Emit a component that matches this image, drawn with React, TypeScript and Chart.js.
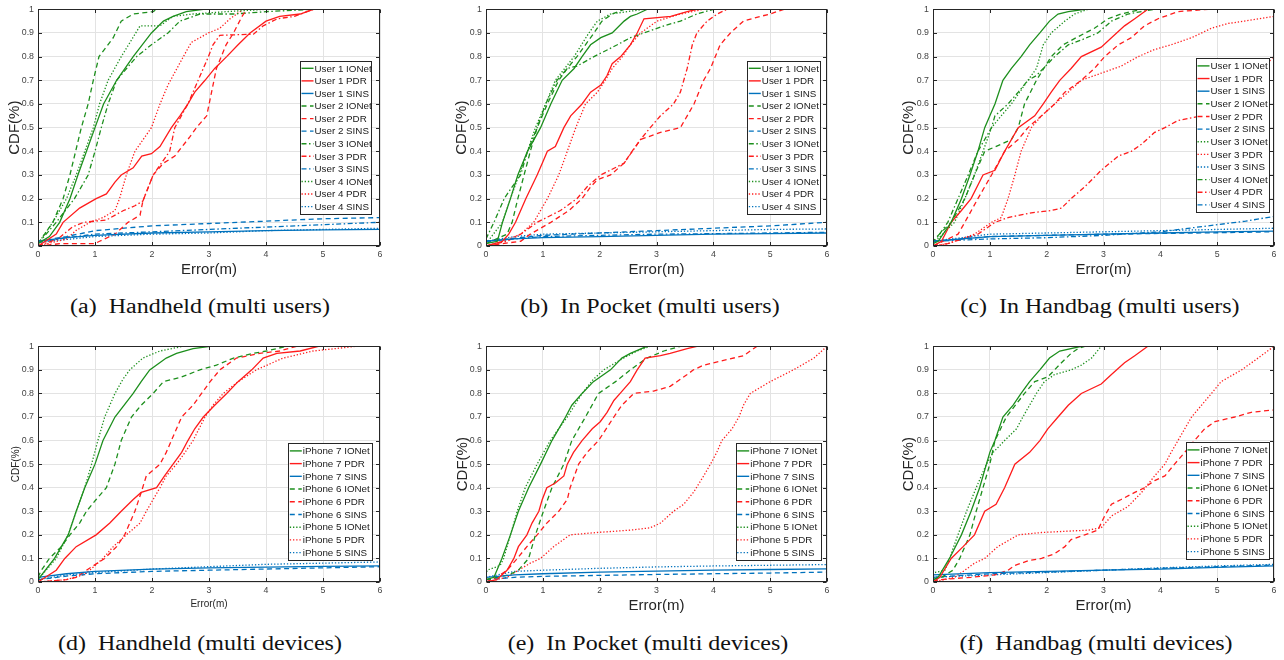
import React, { useEffect, useRef } from "react";
import { Chart, registerables } from "chart.js";

Chart.register(...registerables);

// ---------- colours & line styles ----------
const GREEN = "#1d8f1d";
const RED = "#ff1c1c";
const BLUE = "#0072bd";
const SOLID: number[] = [];
const DASHED = [5, 3.5];
const DASHDOT = [5, 2.5, 1.5, 2.5];
const DOTTED = [1.3, 1.9];

// ---------- axis ticks ----------
const X_TICKS = [0, 1, 2, 3, 4, 5, 6];
const Y_TICKS = [0, 0.1, 0.2, 0.3, 0.4, 0.5, 0.6, 0.7, 0.8, 0.9, 1];

// ---------- (a) Handheld (multi users) : [error(m), CDF] ----------
const A_U1_IONET = [[0,0.01],[0.2,0.04],[0.38,0.1],[0.56,0.2],[0.7,0.3],[0.85,0.4],[1.0,0.5],[1.15,0.6],[1.38,0.7],[1.67,0.8],[1.99,0.9],[2.2,0.95],[2.37,0.97],[2.6,0.99],[2.9,1.0]];
const A_U1_PDR = [[0,0],[0.32,0.05],[0.44,0.1],[0.73,0.16],[1.02,0.2],[1.2,0.22],[1.35,0.27],[1.46,0.3],[1.67,0.33],[1.82,0.38],[1.99,0.39],[2.14,0.42],[2.34,0.5],[2.49,0.55],[2.63,0.6],[2.75,0.65],[2.93,0.7],[3.1,0.75],[3.31,0.8],[3.51,0.85],[3.72,0.9],[4.0,0.95],[4.24,0.97],[4.6,0.98],[4.83,1.0]];
const A_U1_SINS = [[0,0.02],[0.5,0.035],[1,0.045],[2,0.055],[3,0.06],[4,0.065],[5,0.068],[6,0.07]];
const A_U2_IONET = [[0,0.01],[0.26,0.1],[0.44,0.2],[0.56,0.3],[0.66,0.4],[0.76,0.5],[0.88,0.6],[0.97,0.7],[1.07,0.8],[1.32,0.88],[1.46,0.95],[1.67,0.98],[2.02,0.99],[2.08,1.0]];
const A_U2_PDR = [[0,0],[0.4,0.01],[1.0,0.01],[1.08,0.02],[1.35,0.05],[1.58,0.1],[1.79,0.13],[1.84,0.19],[2.02,0.3],[2.2,0.35],[2.4,0.38],[2.66,0.46],[2.78,0.5],[2.96,0.55],[3.13,0.75],[3.3,0.85],[3.43,0.9],[3.58,0.97],[3.66,1.0]];
const A_U2_SINS = [[0,0.02],[0.5,0.04],[1,0.065],[2,0.085],[3,0.095],[4,0.105],[5,0.115],[6,0.12]];
const A_U3_IONET = [[0,0.01],[0.32,0.1],[0.64,0.2],[0.88,0.3],[1.0,0.4],[1.11,0.5],[1.23,0.6],[1.38,0.7],[1.73,0.8],[1.99,0.85],[2.28,0.9],[2.49,0.95],[2.84,0.98],[3.43,0.98],[4.0,0.99],[4.83,1.0]];
const A_U3_PDR = [[0,0],[0.35,0.03],[0.6,0.08],[0.8,0.1],[1.2,0.11],[1.5,0.15],[1.7,0.17],[1.84,0.19],[2.02,0.3],[2.31,0.4],[2.4,0.5],[2.63,0.6],[2.81,0.7],[2.99,0.8],[3.07,0.85],[3.19,0.89],[3.78,0.895],[3.95,0.93],[4.2,0.96],[4.5,0.97],[4.83,1.0]];
const A_U3_SINS = [[0,0.015],[0.5,0.035],[1,0.05],[2,0.06],[3,0.07],[4,0.08],[5,0.09],[6,0.1]];
const A_U4_IONET = [[0,0.01],[0.26,0.1],[0.5,0.2],[0.67,0.3],[0.82,0.4],[0.97,0.5],[1.08,0.6],[1.23,0.7],[1.46,0.8],[1.64,0.87],[1.79,0.93],[2.14,0.93],[2.37,0.97],[2.72,0.98],[3.31,0.99],[4.0,1.0]];
const A_U4_PDR = [[0,0],[0.5,0.03],[0.67,0.066],[0.91,0.1],[1.14,0.12],[1.35,0.15],[1.43,0.2],[1.55,0.3],[1.7,0.4],[1.99,0.5],[2.14,0.6],[2.28,0.68],[2.55,0.8],[2.69,0.86],[2.99,0.9],[3.19,0.92],[3.37,0.96],[3.6,1.0]];
const A_U4_SINS = [[0,0.015],[1,0.04],[2,0.05],[3,0.055],[4,0.065],[5,0.07],[6,0.075]];

// ---------- (b) In Pocket (multi users) ----------
const B_U1_IONET = [[0,0.01],[0.2,0.02],[0.29,0.1],[0.43,0.2],[0.56,0.3],[0.73,0.4],[0.96,0.5],[1.14,0.6],[1.34,0.7],[1.55,0.75],[1.69,0.8],[1.84,0.85],[2.02,0.88],[2.22,0.9],[2.43,0.95],[2.54,0.97],[2.66,0.98],[2.84,1.0]];
const B_U1_PDR = [[0,0],[0.29,0.02],[0.4,0.05],[0.52,0.1],[0.7,0.2],[0.9,0.3],[0.99,0.35],[1.08,0.4],[1.22,0.42],[1.37,0.5],[1.49,0.55],[1.69,0.6],[1.84,0.65],[2.02,0.68],[2.13,0.72],[2.22,0.77],[2.37,0.8],[2.54,0.85],[2.66,0.9],[2.78,0.96],[3.25,0.97],[3.54,0.99],[3.71,1.0]];
const B_U1_SINS = [[0,0.02],[0.5,0.03],[1,0.035],[2,0.04],[3,0.045],[4,0.05],[5,0.052],[6,0.055]];
const B_U2_IONET = [[0,0.01],[0.37,0.05],[0.46,0.1],[0.56,0.2],[0.67,0.3],[0.78,0.4],[0.9,0.5],[1.08,0.6],[1.28,0.7],[1.43,0.75],[1.6,0.8],[1.75,0.85],[1.9,0.9],[2.04,0.95],[2.22,0.98],[2.43,1.0]];
const B_U2_PDR = [[0,0],[0.29,0.01],[0.61,0.02],[0.78,0.05],[1.14,0.1],[1.46,0.15],[1.69,0.2],[1.84,0.25],[1.96,0.28],[2.19,0.3],[2.43,0.35],[2.57,0.4],[2.72,0.45],[3.07,0.48],[3.42,0.5],[3.54,0.55],[3.66,0.6],[3.83,0.7],[3.95,0.75],[4.12,0.85],[4.3,0.9],[4.53,0.95],[4.83,0.97],[5.0,0.98],[5.24,1.0]];
const B_U2_SINS = [[0,0.02],[1,0.045],[2,0.055],[3,0.065],[4,0.075],[5,0.085],[6,0.1]];
const B_U3_IONET = [[0,0.03],[0.14,0.1],[0.32,0.2],[0.46,0.25],[0.61,0.3],[0.73,0.4],[0.9,0.5],[1.05,0.6],[1.25,0.7],[1.43,0.75],[1.6,0.76],[1.9,0.8],[2.31,0.85],[2.54,0.88],[2.78,0.9],[3.13,0.93],[3.42,0.95],[3.71,0.98],[4.0,1.0]];
const B_U3_PDR = [[0,0],[0.37,0.02],[0.61,0.05],[0.9,0.1],[1.31,0.15],[1.6,0.2],[1.78,0.25],[2.02,0.3],[2.43,0.35],[2.72,0.45],[2.89,0.5],[3.07,0.55],[3.3,0.6],[3.42,0.65],[3.54,0.75],[3.63,0.85],[3.71,0.9],[3.89,0.95],[4.07,0.98],[4.24,1.0]];
const B_U3_SINS = [[0,0.02],[1,0.04],[2,0.045],[3,0.05],[4,0.052],[5,0.055],[6,0.058]];
const B_U4_IONET = [[0,0.01],[0.29,0.1],[0.43,0.2],[0.58,0.3],[0.73,0.4],[0.87,0.5],[1.05,0.6],[1.22,0.7],[1.55,0.8],[1.81,0.9],[1.96,0.95],[2.19,0.98],[2.78,1.0]];
const B_U4_PDR = [[0,0],[0.3,0.02],[0.61,0.05],[0.84,0.1],[0.96,0.15],[1.08,0.2],[1.28,0.3],[1.43,0.4],[1.58,0.5],[1.75,0.6],[1.96,0.65],[2.1,0.7],[2.22,0.75],[2.4,0.8],[2.54,0.85],[2.72,0.9],[3.01,0.95],[3.42,0.98],[3.83,1.0]];
const B_U4_SINS = [[0,0.02],[0.5,0.04],[1,0.05],[2,0.055],[3,0.06],[4,0.065],[5,0.07],[6,0.072]];

// ---------- (c) In Handbag (multi users) ----------
const C_U1_IONET = [[0,0.01],[0.09,0.02],[0.32,0.1],[0.5,0.2],[0.65,0.3],[0.79,0.4],[0.91,0.5],[1.0,0.55],[1.09,0.6],[1.23,0.7],[1.38,0.75],[1.55,0.8],[1.7,0.85],[1.88,0.9],[2.05,0.95],[2.2,0.98],[2.38,0.99],[2.67,1.0]];
const C_U1_PDR = [[0,0],[0.15,0.02],[0.32,0.1],[0.5,0.15],[0.67,0.2],[0.88,0.3],[1.09,0.32],[1.26,0.4],[1.5,0.5],[1.79,0.55],[1.94,0.6],[2.08,0.65],[2.23,0.7],[2.43,0.75],[2.61,0.8],[2.96,0.84],[3.14,0.88],[3.37,0.93],[3.55,0.96],[3.78,1.0]];
const C_U1_SINS = [[0,0.02],[1,0.04],[2,0.045],[3,0.05],[4,0.055],[5,0.06],[6,0.063]];
const C_U2_IONET = [[0,0.01],[0.03,0.03],[0.32,0.1],[0.56,0.2],[0.73,0.3],[0.91,0.4],[1.2,0.43],[1.38,0.45],[1.5,0.5],[1.61,0.6],[1.82,0.7],[2.08,0.8],[2.29,0.85],[2.52,0.88],[2.84,0.92],[3.08,0.96],[3.31,0.98],[3.67,1.0]];
const C_U2_PDR = [[0,0],[0.18,0.02],[0.44,0.05],[0.56,0.1],[0.79,0.2],[1.03,0.3],[1.26,0.4],[1.5,0.45],[1.67,0.5],[1.91,0.55],[2.14,0.6],[2.32,0.65],[2.61,0.7],[2.84,0.75],[3.02,0.8],[3.26,0.85],[3.49,0.88],[3.72,0.93],[3.96,0.96],[4.31,0.99],[4.84,1.0]];
const C_U2_SINS = [[0,0.02],[1,0.04],[2,0.045],[3,0.05],[4,0.053],[5,0.056],[6,0.06]];
const C_U3_IONET = [[0,0.01],[0.38,0.1],[0.56,0.2],[0.73,0.3],[0.88,0.4],[1.03,0.5],[1.2,0.55],[1.38,0.6],[1.67,0.7],[1.82,0.75],[1.94,0.85],[2.08,0.9],[2.32,0.95],[2.49,0.98],[2.73,1.0]];
const C_U3_PDR = [[0,0],[0.26,0.01],[0.73,0.05],[1.03,0.1],[1.2,0.12],[1.32,0.2],[1.44,0.3],[1.55,0.4],[1.73,0.5],[1.91,0.55],[2.14,0.6],[2.38,0.65],[2.61,0.7],[2.96,0.73],[3.31,0.76],[3.61,0.8],[3.9,0.83],[4.19,0.85],[4.55,0.88],[4.9,0.92],[5.19,0.94],[5.48,0.95],[6.0,0.97]];
const C_U3_SINS = [[0,0.02],[1,0.05],[2,0.055],[3,0.06],[4,0.065],[5,0.07],[6,0.075]];
const C_U4_IONET = [[0,0.01],[0.26,0.1],[0.44,0.2],[0.62,0.3],[0.79,0.4],[1.03,0.5],[1.09,0.55],[1.32,0.6],[1.5,0.65],[1.67,0.7],[1.82,0.72],[2.14,0.8],[2.38,0.85],[2.61,0.87],[2.9,0.9],[3.14,0.95],[3.43,0.98],[3.9,1.0]];
const C_U4_PDR = [[0,0],[0.26,0.01],[0.79,0.05],[1.09,0.1],[1.32,0.12],[1.73,0.14],[2.08,0.15],[2.26,0.16],[2.43,0.2],[2.67,0.25],[2.96,0.32],[3.26,0.38],[3.49,0.4],[3.67,0.43],[3.9,0.48],[4.08,0.5],[4.31,0.53],[4.72,0.55],[5.07,0.6],[5.37,0.65],[5.66,0.72],[6.0,0.8]];
const C_U4_SINS = [[0,0.02],[1,0.03],[2,0.035],[3,0.045],[4,0.06],[5,0.09],[5.5,0.105],[6,0.125]];

// ---------- (d) Handheld (multi devices) ----------
const D_I7_IONET = [[0,0.01],[0.29,0.1],[0.53,0.2],[0.67,0.3],[0.82,0.4],[1.0,0.5],[1.14,0.6],[1.35,0.7],[1.67,0.8],[1.81,0.85],[1.96,0.9],[2.25,0.95],[2.43,0.97],[2.72,0.99],[3.02,1.0]];
const D_I7_PDR = [[0,0],[0.32,0.05],[0.47,0.1],[0.67,0.15],[1.02,0.2],[1.26,0.25],[1.46,0.3],[1.67,0.35],[1.81,0.38],[2.08,0.4],[2.22,0.45],[2.37,0.5],[2.52,0.55],[2.63,0.6],[2.75,0.65],[2.9,0.7],[3.1,0.75],[3.31,0.8],[3.51,0.85],[3.75,0.9],[3.95,0.95],[4.19,0.97],[4.6,0.98],[4.92,1.0]];
const D_I7_SINS = [[0,0.02],[0.5,0.035],[1,0.045],[2,0.055],[3,0.06],[4,0.063],[5,0.066],[6,0.068]];
const D_I6_IONET = [[0,0.02],[0.06,0.05],[0.2,0.1],[0.41,0.15],[0.56,0.2],[0.73,0.25],[0.85,0.3],[1.02,0.35],[1.2,0.4],[1.35,0.5],[1.46,0.6],[1.64,0.7],[1.81,0.75],[2.02,0.8],[2.2,0.85],[2.52,0.87],[2.84,0.9],[3.13,0.92],[3.43,0.95],[3.78,0.97],[4.01,0.98],[4.36,1.0]];
const D_I6_PDR = [[0,0],[0.5,0.01],[0.67,0.02],[0.85,0.05],[1.17,0.1],[1.38,0.15],[1.52,0.2],[1.7,0.3],[1.81,0.38],[1.9,0.45],[2.14,0.5],[2.25,0.55],[2.34,0.6],[2.52,0.7],[2.72,0.75],[2.87,0.8],[3.02,0.85],[3.19,0.9],[3.48,0.95],[3.89,0.97],[4.24,0.98],[4.54,1.0]];
const D_I6_SINS = [[0,0.01],[0.5,0.025],[1,0.035],[2,0.045],[3,0.05],[4,0.055],[5,0.06],[6,0.065]];
const D_I5_IONET = [[0,0.01],[0.32,0.1],[0.53,0.2],[0.67,0.3],[0.82,0.4],[0.94,0.5],[1.05,0.6],[1.17,0.7],[1.35,0.8],[1.49,0.86],[1.61,0.9],[1.84,0.95],[2.14,0.98],[2.55,1.0]];
const D_I5_PDR = [[0,0],[0.5,0.01],[0.79,0.03],[0.91,0.05],[1.14,0.1],[1.32,0.15],[1.55,0.2],[1.79,0.25],[1.9,0.3],[2.02,0.35],[2.14,0.4],[2.25,0.45],[2.43,0.5],[2.58,0.55],[2.72,0.6],[2.93,0.7],[3.07,0.75],[3.25,0.8],[3.51,0.85],[3.83,0.9],[4.3,0.95],[4.83,0.98],[5.59,1.0]];
const D_I5_SINS = [[0,0.01],[0.5,0.03],[1,0.04],[2,0.055],[3,0.065],[4,0.075],[5,0.08],[6,0.085]];

// ---------- (e) In Pocket (multi devices) ----------
const E_I7_IONET = [[0,0.01],[0.14,0.02],[0.28,0.1],[0.43,0.2],[0.57,0.3],[0.75,0.4],[0.96,0.5],[1.16,0.6],[1.4,0.7],[1.51,0.75],[1.69,0.8],[1.89,0.85],[2.19,0.9],[2.39,0.95],[2.54,0.97],[2.83,1.0]];
const E_I7_PDR = [[0,0],[0.19,0.01],[0.37,0.05],[0.49,0.1],[0.57,0.15],[0.72,0.2],[0.81,0.25],[0.93,0.3],[0.99,0.35],[1.07,0.4],[1.22,0.42],[1.37,0.45],[1.43,0.5],[1.54,0.55],[1.69,0.6],[1.87,0.65],[2.01,0.68],[2.13,0.72],[2.25,0.77],[2.36,0.8],[2.54,0.85],[2.66,0.9],[2.8,0.95],[3.07,0.96],[3.24,0.97],[3.54,0.99],[3.71,1.0]];
const E_I7_SINS = [[0,0.02],[0.5,0.03],[1,0.035],[2,0.042],[3,0.046],[4,0.05],[5,0.053],[6,0.056]];
const E_I6_IONET = [[0,0.01],[0.4,0.03],[0.57,0.05],[0.75,0.1],[0.87,0.2],[1.01,0.3],[1.16,0.4],[1.37,0.5],[1.51,0.6],[1.75,0.7],[1.98,0.8],[2.28,0.85],[2.54,0.9],[2.83,0.95],[3.13,0.98],[3.42,1.0]];
const E_I6_PDR = [[0,0],[0.19,0.02],[0.37,0.05],[0.55,0.1],[0.72,0.15],[0.9,0.2],[1.07,0.25],[1.28,0.3],[1.43,0.35],[1.48,0.4],[1.63,0.5],[1.78,0.55],[1.98,0.6],[2.25,0.7],[2.39,0.75],[2.6,0.8],[2.95,0.81],[3.24,0.83],[3.54,0.88],[3.65,0.9],[3.83,0.92],[4.18,0.94],[4.53,0.96],[4.77,1.0]];
const E_I6_SINS = [[0,0.01],[0.5,0.02],[1,0.024],[2,0.028],[3,0.032],[4,0.035],[5,0.038],[6,0.042]];
const E_I5_IONET = [[0,0.03],[0.02,0.05],[0.25,0.07],[0.31,0.1],[0.43,0.2],[0.55,0.3],[0.69,0.4],[0.9,0.5],[1.13,0.6],[1.43,0.7],[1.69,0.8],[1.89,0.86],[2.07,0.9],[2.42,0.95],[2.66,0.98],[2.89,1.0]];
const E_I5_PDR = [[0,0],[0.37,0.02],[0.57,0.05],[0.78,0.08],[0.96,0.1],[1.19,0.15],[1.48,0.2],[1.95,0.21],[2.54,0.22],[2.89,0.23],[3.07,0.25],[3.3,0.3],[3.48,0.33],[3.65,0.38],[3.83,0.45],[3.95,0.5],[4.06,0.55],[4.15,0.6],[4.33,0.65],[4.45,0.7],[4.53,0.75],[4.65,0.8],[5.0,0.85],[5.41,0.9],[5.77,0.95],[6.0,1.0]];
const E_I5_SINS = [[0,0.02],[0.5,0.045],[1,0.05],[2,0.058],[3,0.064],[4,0.068],[5,0.071],[6,0.074]];

// ---------- (f) Handbag (multi devices) ----------
const F_I7_IONET = [[0,0.01],[0.09,0.02],[0.29,0.1],[0.5,0.2],[0.67,0.3],[0.82,0.4],[0.94,0.5],[1.0,0.55],[1.09,0.6],[1.23,0.7],[1.41,0.75],[1.55,0.8],[1.7,0.85],[1.88,0.9],[2.05,0.95],[2.23,0.98],[2.61,1.0]];
const F_I7_PDR = [[0,0],[0.12,0.02],[0.32,0.1],[0.53,0.15],[0.73,0.2],[0.91,0.3],[1.11,0.33],[1.26,0.4],[1.44,0.5],[1.7,0.55],[1.88,0.6],[2.02,0.65],[2.2,0.7],[2.38,0.75],[2.61,0.8],[2.96,0.84],[3.14,0.88],[3.37,0.93],[3.55,0.96],[3.78,1.0]];
const F_I7_SINS = [[0,0.03],[1,0.04],[2,0.045],[3,0.05],[4,0.055],[5,0.062],[6,0.068]];
const F_I6_IONET = [[0,0.01],[0.15,0.02],[0.35,0.05],[0.47,0.1],[0.65,0.2],[0.76,0.3],[0.88,0.4],[1.0,0.5],[1.09,0.6],[1.29,0.7],[1.61,0.8],[1.79,0.85],[2.02,0.87],[2.26,0.93],[2.43,0.97],[2.55,0.99],[2.67,1.0]];
const F_I6_PDR = [[0,0],[0.12,0.01],[0.67,0.02],[1.09,0.03],[1.32,0.05],[1.44,0.07],[1.67,0.09],[1.91,0.1],[2.14,0.12],[2.32,0.15],[2.43,0.18],[2.67,0.2],[2.9,0.22],[3.02,0.28],[3.14,0.33],[3.31,0.35],[3.55,0.38],[3.72,0.4],[3.9,0.43],[4.08,0.45],[4.25,0.5],[4.43,0.55],[4.6,0.6],[4.78,0.65],[4.96,0.68],[5.31,0.7],[5.6,0.72],[6.0,0.73]];
const F_I6_SINS = [[0,0.02],[1,0.035],[2,0.042],[3,0.05],[4,0.058],[5,0.065],[6,0.072]];
const F_I5_IONET = [[0,0.03],[0.03,0.04],[0.21,0.05],[0.29,0.1],[0.44,0.2],[0.59,0.3],[0.76,0.4],[0.94,0.5],[1.06,0.55],[1.26,0.6],[1.47,0.65],[1.58,0.7],[1.82,0.8],[1.96,0.85],[2.14,0.88],[2.43,0.9],[2.61,0.92],[2.79,0.95],[2.96,1.0]];
const F_I5_PDR = [[0,0],[0.2,0.01],[0.38,0.02],[0.56,0.05],[0.73,0.08],[0.91,0.1],[1.14,0.15],[1.5,0.2],[1.91,0.21],[2.73,0.22],[2.96,0.23],[3.14,0.28],[3.43,0.32],[3.67,0.38],[3.9,0.45],[4.08,0.5],[4.19,0.55],[4.31,0.6],[4.55,0.7],[4.9,0.8],[5.07,0.85],[5.43,0.9],[5.72,0.95],[6.0,1.0]];
const F_I5_SINS = [[0,0.02],[1,0.03],[2,0.04],[3,0.05],[4,0.06],[5,0.068],[6,0.075]];

// ---------- series descriptors ----------
type Series = { label: string; color: string; dash: number[]; data: number[][] };

const S = (label: string, color: string, dash: number[], data: number[][]): Series => ({ label, color, dash, data });

const SERIES_A: Series[] = [
  S("User 1 IONet", GREEN, SOLID, A_U1_IONET), S("User 1 PDR", RED, SOLID, A_U1_PDR), S("User 1 SINS", BLUE, SOLID, A_U1_SINS),
  S("User 2 IONet", GREEN, DASHED, A_U2_IONET), S("User 2 PDR", RED, DASHED, A_U2_PDR), S("User 2 SINS", BLUE, DASHED, A_U2_SINS),
  S("User 3 IONet", GREEN, DASHDOT, A_U3_IONET), S("User 3 PDR", RED, DASHDOT, A_U3_PDR), S("User 3 SINS", BLUE, DASHDOT, A_U3_SINS),
  S("User 4 IONet", GREEN, DOTTED, A_U4_IONET), S("User 4 PDR", RED, DOTTED, A_U4_PDR), S("User 4 SINS", BLUE, DOTTED, A_U4_SINS),
];
const SERIES_B: Series[] = [
  S("User 1 IONet", GREEN, SOLID, B_U1_IONET), S("User 1 PDR", RED, SOLID, B_U1_PDR), S("User 1 SINS", BLUE, SOLID, B_U1_SINS),
  S("User 2 IONet", GREEN, DASHED, B_U2_IONET), S("User 2 PDR", RED, DASHED, B_U2_PDR), S("User 2 SINS", BLUE, DASHED, B_U2_SINS),
  S("User 3 IONet", GREEN, DASHDOT, B_U3_IONET), S("User 3 PDR", RED, DASHDOT, B_U3_PDR), S("User 3 SINS", BLUE, DASHDOT, B_U3_SINS),
  S("User 4 IONet", GREEN, DOTTED, B_U4_IONET), S("User 4 PDR", RED, DOTTED, B_U4_PDR), S("User 4 SINS", BLUE, DOTTED, B_U4_SINS),
];
const SERIES_C: Series[] = [
  S("User 1 IONet", GREEN, SOLID, C_U1_IONET), S("User 1 PDR", RED, SOLID, C_U1_PDR), S("User 1 SINS", BLUE, SOLID, C_U1_SINS),
  S("User 2 IONet", GREEN, DASHED, C_U2_IONET), S("User 2 PDR", RED, DASHED, C_U2_PDR), S("User 2 SINS", BLUE, DASHED, C_U2_SINS),
  S("User 3 IONet", GREEN, DOTTED, C_U3_IONET), S("User 3 PDR", RED, DOTTED, C_U3_PDR), S("User 3 SINS", BLUE, DOTTED, C_U3_SINS),
  S("User 4 IONet", GREEN, DASHDOT, C_U4_IONET), S("User 4 PDR", RED, DASHDOT, C_U4_PDR), S("User 4 SINS", BLUE, DASHDOT, C_U4_SINS),
];
const SERIES_D: Series[] = [
  S("iPhone 7 IONet", GREEN, SOLID, D_I7_IONET), S("iPhone 7 PDR", RED, SOLID, D_I7_PDR), S("iPhone 7 SINS", BLUE, SOLID, D_I7_SINS),
  S("iPhone 6 IONet", GREEN, DASHED, D_I6_IONET), S("iPhone 6 PDR", RED, DASHED, D_I6_PDR), S("iPhone 6 SINS", BLUE, DASHED, D_I6_SINS),
  S("iPhone 5 IONet", GREEN, DOTTED, D_I5_IONET), S("iPhone 5 PDR", RED, DOTTED, D_I5_PDR), S("iPhone 5 SINS", BLUE, DOTTED, D_I5_SINS),
];
const SERIES_E: Series[] = [
  S("iPhone 7 IONet", GREEN, SOLID, E_I7_IONET), S("iPhone 7 PDR", RED, SOLID, E_I7_PDR), S("iPhone 7 SINS", BLUE, SOLID, E_I7_SINS),
  S("iPhone 6 IONet", GREEN, DASHED, E_I6_IONET), S("iPhone 6 PDR", RED, DASHED, E_I6_PDR), S("iPhone 6 SINS", BLUE, DASHED, E_I6_SINS),
  S("iPhone 5 IONet", GREEN, DOTTED, E_I5_IONET), S("iPhone 5 PDR", RED, DOTTED, E_I5_PDR), S("iPhone 5 SINS", BLUE, DOTTED, E_I5_SINS),
];
const SERIES_F: Series[] = [
  S("iPhone 7 IONet", GREEN, SOLID, F_I7_IONET), S("iPhone 7 PDR", RED, SOLID, F_I7_PDR), S("iPhone 7 SINS", BLUE, SOLID, F_I7_SINS),
  S("iPhone 6 IONet", GREEN, DASHED, F_I6_IONET), S("iPhone 6 PDR", RED, DASHED, F_I6_PDR), S("iPhone 6 SINS", BLUE, DASHED, F_I6_SINS),
  S("iPhone 5 IONet", GREEN, DOTTED, F_I5_IONET), S("iPhone 5 PDR", RED, DOTTED, F_I5_PDR), S("iPhone 5 SINS", BLUE, DOTTED, F_I5_SINS),
];

// ---------- captions ----------
const CAPTIONS = [
  "(a)  Handheld (multi users)",
  "(b)  In Pocket (multi users)",
  "(c)  In Handbag (multi users)",
  "(d)  Handheld (multi devices)",
  "(e)  In Pocket (multi devices)",
  "(f)  Handbag (multi devices)",
];

// ---------- layout (page pixels) ----------
type Panel = {
  series: Series[];
  left: number; top: number; width: number; height: number;
  yw: number; xh: number; padTop: number; padRight: number;
  titleSize: number; yTitlePad: number; xTitlePad: number;
  legend: { x: number; y: number; w: number; h: number };
  capX: number; capY: number; caption: string;
};

const PANELS: Panel[] = [
  { series: SERIES_A, left: 0, top: 0, width: 390, height: 280, yw: 38, xh: 34, padTop: 7, padRight: 10, titleSize: 15, yTitlePad: 6, xTitlePad: 1, legend: { x: 300, y: 60.7, w: 70.7, h: 153.3 }, capX: 200, capY: 306, caption: CAPTIONS[0] },
  { series: SERIES_B, left: 446, top: 0, width: 391, height: 280, yw: 40, xh: 34, padTop: 7, padRight: 10, titleSize: 15, yTitlePad: 7, xTitlePad: 1, legend: { x: 747.3, y: 60.7, w: 73.4, h: 153.3 }, capX: 650, capY: 306, caption: CAPTIONS[1] },
  { series: SERIES_C, left: 893, top: 0, width: 391, height: 280, yw: 40, xh: 34, padTop: 7, padRight: 10, titleSize: 15, yTitlePad: 7, xTitlePad: 1, legend: { x: 1196, y: 58.3, w: 73.3, h: 154 }, capX: 1100, capY: 306, caption: CAPTIONS[2] },
  { series: SERIES_D, left: 0, top: 337, width: 390, height: 275, yw: 38, xh: 30, padTop: 7, padRight: 10, titleSize: 10, yTitlePad: 10, xTitlePad: 2, legend: { x: 288.3, y: 443.3, w: 84, h: 116.7 }, capX: 200, capY: 643, caption: CAPTIONS[3] },
  { series: SERIES_E, left: 446, top: 337, width: 391, height: 279, yw: 40, xh: 34, padTop: 7, padRight: 10, titleSize: 15, yTitlePad: 8, xTitlePad: 1, legend: { x: 735.7, y: 443.3, w: 85, h: 116.7 }, capX: 648, capY: 643, caption: CAPTIONS[4] },
  { series: SERIES_F, left: 893, top: 337, width: 391, height: 279, yw: 40, xh: 34, padTop: 7, padRight: 10, titleSize: 15, yTitlePad: 7, xTitlePad: 1, legend: { x: 1186, y: 442.3, w: 83.3, h: 116.7 }, capX: 1096, capY: 643, caption: CAPTIONS[5] },
];

const SANS = '"Liberation Sans", Arial, Helvetica, sans-serif';
const AXIS_COLOR = "#262626";
const TICK_COLOR = "#444444";
const GRID_COLOR = "#e3e3e3";

function framePlugin(panel: Panel) {
  return {
    id: "frameAndLegend",
    afterDraw(chart: any) {
      const { ctx, chartArea: a, scales } = chart;
      ctx.save();
      // axes box
      ctx.strokeStyle = AXIS_COLOR;
      ctx.lineWidth = 1;
      ctx.setLineDash([]);
      const L = Math.round(a.left) + 0.5, R = Math.round(a.right) - 0.5;
      const T = Math.round(a.top) + 0.5, B = Math.round(a.bottom) - 0.5;
      ctx.strokeRect(L, T, R - L, B - T);
      // inward ticks from the library's tick values
      const tl = 3.5;
      ctx.beginPath();
      scales.x.ticks.forEach((t: any) => {
        const x = Math.round(scales.x.getPixelForValue(t.value)) + 0.5;
        ctx.moveTo(x, B); ctx.lineTo(x, B - tl);
        ctx.moveTo(x, T); ctx.lineTo(x, T + tl);
      });
      scales.y.ticks.forEach((t: any) => {
        const y = Math.round(scales.y.getPixelForValue(t.value)) + 0.5;
        ctx.moveTo(L, y); ctx.lineTo(L + tl, y);
        ctx.moveTo(R, y); ctx.lineTo(R - tl, y);
      });
      ctx.stroke();

      // legend box inside the plot area
      const lg = panel.legend;
      const bx = lg.x - panel.left, by = lg.y - panel.top;
      ctx.fillStyle = "#ffffff";
      ctx.fillRect(bx, by, lg.w, lg.h);
      ctx.strokeStyle = AXIS_COLOR;
      ctx.lineWidth = 1;
      ctx.strokeRect(Math.round(bx) + 0.5, Math.round(by) + 0.5, Math.round(lg.w), Math.round(lg.h));
      const ds = chart.data.datasets;
      const n = ds.length;
      const gap = (lg.h - 15) / (n - 1);
      ctx.font = `9.8px ${SANS}`;
      ctx.textBaseline = "middle";
      ctx.textAlign = "left";
      ds.forEach((d: any, i: number) => {
        const y = by + 7.6 + i * gap;
        ctx.strokeStyle = d.borderColor;
        ctx.lineWidth = 1.4;
        ctx.setLineDash(d.borderDash || []);
        ctx.beginPath();
        ctx.moveTo(bx + 1.5, y);
        ctx.lineTo(bx + 13.5, y);
        ctx.stroke();
        ctx.setLineDash([]);
        ctx.fillStyle = "#1a1a1a";
        ctx.fillText(d.label, bx + 14.5, y + 0.5);
      });
      ctx.restore();
    },
  };
}

function CdfPanel({ panel }: { panel: Panel }) {
  const ref = useRef<HTMLCanvasElement>(null);
  useEffect(() => {
    const canvas = ref.current;
    if (!canvas) return;
    const chart = new Chart(canvas, {
      type: "line",
      data: {
        datasets: panel.series.map((s) => ({
          label: s.label,
          data: s.data.map(([x, y]) => ({ x, y })),
          borderColor: s.color,
          backgroundColor: s.color,
          borderDash: s.dash,
          borderWidth: 1.3,
          pointRadius: 0,
          fill: false,
          tension: 0,
        })),
      },
      options: {
        responsive: false,
        animation: false,
        events: [],
        layout: { padding: { left: 0, top: panel.padTop, right: panel.padRight, bottom: 0 } },
        plugins: { legend: { display: false }, tooltip: { enabled: false } },
        scales: {
          x: {
            type: "linear",
            min: X_TICKS[0],
            max: X_TICKS[X_TICKS.length - 1],
            afterBuildTicks: (scale: any) => { scale.ticks = X_TICKS.map((v) => ({ value: v })); },
            ticks: { color: TICK_COLOR, font: { family: SANS, size: 8.8 }, padding: 3, maxRotation: 0, autoSkip: false, callback: (v: any) => String(v) },
            grid: { color: GRID_COLOR, lineWidth: 1, drawTicks: false },
            border: { display: false },
            title: { display: true, text: "Error(m)", color: AXIS_COLOR, font: { family: SANS, size: panel.titleSize }, padding: { top: 0, bottom: panel.xTitlePad } },
            afterFit: (scale: any) => { scale.height = panel.xh; },
          },
          y: {
            type: "linear",
            min: Y_TICKS[0],
            max: Y_TICKS[Y_TICKS.length - 1],
            afterBuildTicks: (scale: any) => { scale.ticks = Y_TICKS.map((v) => ({ value: v })); },
            ticks: { color: TICK_COLOR, font: { family: SANS, size: 8.8 }, padding: 4, autoSkip: false, callback: (v: any) => String(Number(Number(v).toFixed(1))) },
            grid: { color: GRID_COLOR, lineWidth: 1, drawTicks: false },
            border: { display: false },
            title: { display: true, text: "CDF(%)", color: AXIS_COLOR, font: { family: SANS, size: panel.titleSize }, padding: { top: panel.yTitlePad, bottom: 0 } },
            afterFit: (scale: any) => { scale.width = panel.yw; },
          },
        },
      },
      plugins: [framePlugin(panel)],
    } as any);
    return () => chart.destroy();
  }, [panel]);
  return (
    <canvas
      ref={ref}
      width={panel.width}
      height={panel.height}
      style={{ position: "absolute", left: panel.left, top: panel.top, width: panel.width, height: panel.height }}
    />
  );
}

export default function App() {
  return (
    <div style={{ position: "fixed", left: 0, top: 0, width: 1284, height: 660, background: "#ffffff", overflow: "hidden" }}>
      {PANELS.map((p, i) => (
        <React.Fragment key={i}>
          <CdfPanel panel={p} />
          <div
            style={{
              position: "absolute",
              left: p.capX,
              top: p.capY,
              transform: "translate(-50%, -50%) scaleX(1.2)",
              fontFamily: '"Liberation Serif", "Times New Roman", serif',
              fontSize: 20,
              lineHeight: "22px",
              whiteSpace: "pre",
              color: "#111111",
            }}
          >
            {p.caption}
          </div>
        </React.Fragment>
      ))}
    </div>
  );
}
